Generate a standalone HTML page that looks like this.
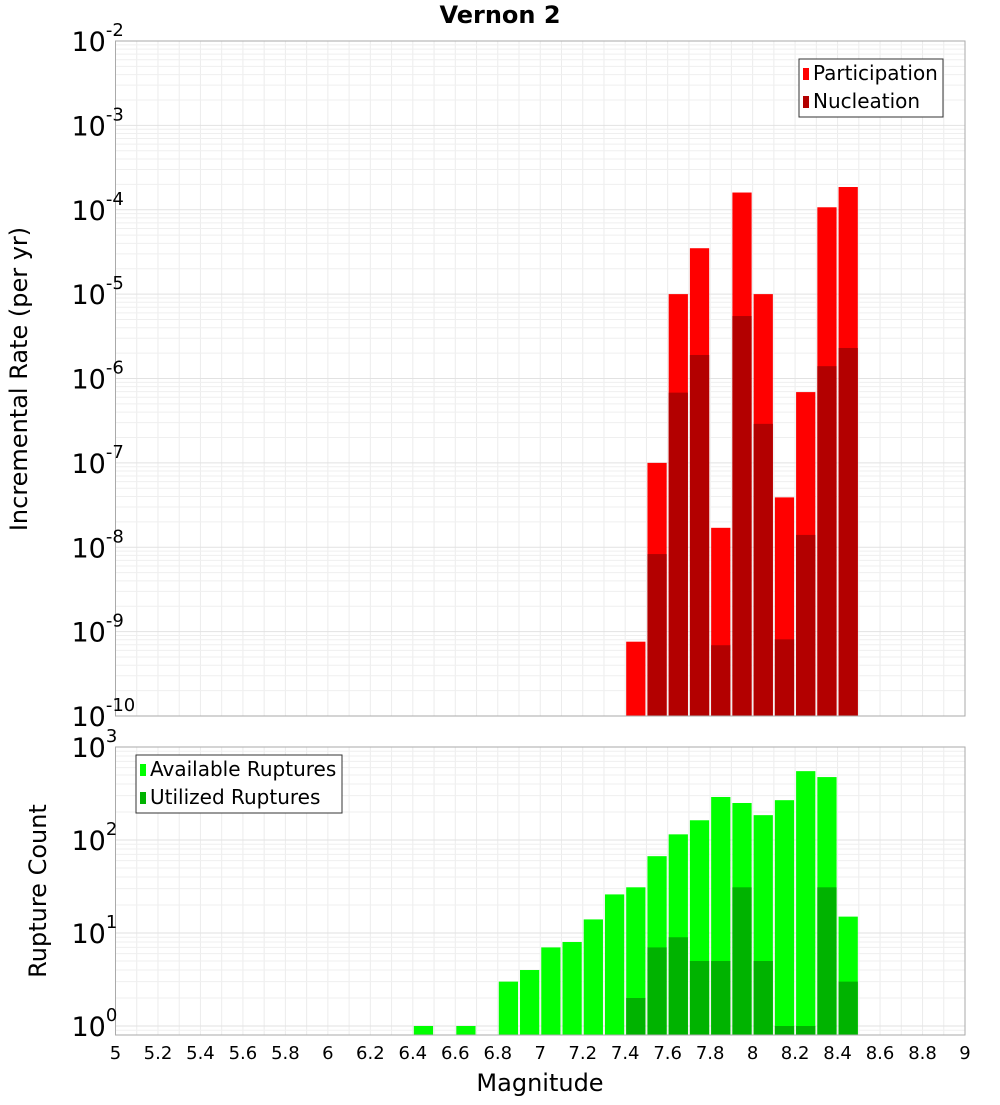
<!DOCTYPE html>
<html><head><meta charset="utf-8"><style>
body{margin:0;background:#fff}
svg text{font-family:"DejaVu Sans","Liberation Sans",sans-serif}
</style></head><body>
<svg id="c" width="1000" height="1100" xmlns="http://www.w3.org/2000/svg"></svg>
<script>
const mags=[6.45,6.55,6.65,6.75,6.85,6.95,7.05,7.15,7.25,7.35,7.45,7.55,7.65,7.75,7.85,7.95,8.05,8.15,8.25,8.35,8.45];
const participation=[0,0,0,0,0,0,0,0,0,0,7.6e-10,1e-7,1e-5,3.5e-5,1.7e-8,1.6e-4,1e-5,3.9e-8,6.9e-7,1.07e-4,1.86e-4];
const nucleation=[0,0,0,0,0,0,0,0,0,0,0,8.3e-9,6.8e-7,1.9e-6,6.9e-10,5.5e-6,2.9e-7,8.1e-10,1.4e-8,1.4e-6,2.3e-6];
const available=[1,0,1,0,3,4,7,8,14,26,31,67,115,163,290,250,185,268,550,475,15];
const utilized=[0,0,0,0,0,0,0,0,0,0,2,7,9,5,5,31,5,1,1,31,3];
const xTicks=[5,5.2,5.4,5.6,5.8,6,6.2,6.4,6.6,6.8,7,7.2,7.4,7.6,7.8,8,8.2,8.4,8.6,8.8,9];
const topExp=[-2,-3,-4,-5,-6,-7,-8,-9,-10];
const botExp=[3,2,1,0];

const svg=document.getElementById('c');const NS='http://www.w3.org/2000/svg';
function el(t,a,p){const e=document.createElementNS(NS,t);for(const k in a)e.setAttribute(k,a[k]);(p||svg).appendChild(e);return e;}
const L=115.5,R=965;
const X=m=>L+(m-5)/4*(R-L);
const T0=41,T1=716,B0=747,B1=1035;
const Yt=v=>T0+(-2-Math.log10(v))/8*(T1-T0);
const bDec=(1026-B0)/3;
const Yb=v=>B0+(3-Math.log10(v))*bDec;
const bw=(R-L)/40;

function grid(y0,y1,yf,decs,minDec){
  const g=el('g',{});
  
  for(let m=5;m<=9.001;m+=0.1){const x=X(m);el('line',{x1:x,x2:x,y1:y0,y2:y1,stroke:'#ececec','stroke-width':1},g);}
  for(let d=minDec;d<decs;d++)for(let k=1;k<10;k++){const y=yf(k*Math.pow(10,d));if(y>=y0&&y<=y1)el('line',{x1:L,x2:R,y1:y,y2:y,stroke:k==1?'#e2e2e2':'#efefef','stroke-width':1},g);}
}
grid(T0,T1,Yt,-2,-10);
grid(B0,B1,Yb,3,-1);

mags.forEach((m,i)=>{
  if(participation[i]>0){const y=Yt(participation[i]);const r=el('rect',{x:X(m)-bw/2+1,y:y,width:bw-2,height:T1-y,fill:'#ff0000'});}
  if(nucleation[i]>0){const y=Yt(nucleation[i]);const r=el('rect',{x:X(m)-bw/2+1,y:y,width:bw-2,height:T1-y,fill:'#b30000'});}
});
mags.forEach((m,i)=>{
  if(available[i]>0){const y=Yb(available[i]);const r=el('rect',{x:X(m)-bw/2+1,y:y,width:bw-2,height:B1-y,fill:'#00ff00'});}
  if(utilized[i]>0){const y=Yb(utilized[i]);const r=el('rect',{x:X(m)-bw/2+1,y:y,width:bw-2,height:B1-y,fill:'#00b300'});}
});
let f=el('rect',{x:L,y:T0,width:R-L,height:T1-T0,fill:'none',stroke:'#aaa'});

f=el('rect',{x:L,y:B0,width:R-L,height:B1-B0,fill:'none',stroke:'#aaa'});


function expLabel(y,e,name){
  const t=el('text',{x:L-44,y:y+10,'font-size':27,fill:'#000'});
  
  const a=el('tspan',{},t);a.textContent='10';
  const b=el('tspan',{dy:-15,'font-size':18},t);b.textContent=String(e);
}
topExp.forEach(e=>expLabel(Yt(Math.pow(10,e)),e,'y-tick-label'));
botExp.forEach(e=>expLabel(Yb(Math.pow(10,e)),e,'y2-tick-label'));
xTicks.forEach(v=>{const t=el('text',{x:X(v),y:1059,'text-anchor':'middle','font-size':18});t.textContent=String(v);});

let t=el('text',{x:500,y:23,'text-anchor':'middle','font-size':24,'font-weight':'bold'});t.textContent='Vernon 2';
t=el('text',{x:540,y:1091,'text-anchor':'middle','font-size':24});t.textContent='Magnitude';
t=el('text',{x:0,y:0,'text-anchor':'middle','font-size':24,transform:'translate(27,379) rotate(-90)'});t.textContent='Incremental Rate (per yr)';
t=el('text',{x:0,y:0,'text-anchor':'middle','font-size':24,transform:'translate(46,891) rotate(-90)'});t.textContent='Rupture Count';

function legend(x,y,w,items,name){
  const g=el('g',{});
  el('rect',{x:x,y:y,width:w,height:58,fill:'#fff',stroke:'#333'},g);
  items.forEach((it,i)=>{
    el('rect',{x:x+4,y:y+9+i*28,width:6,height:12,fill:it[1]},g);
    const tt=el('text',{x:x+14,y:y+21+i*28,'font-size':20},g);tt.textContent=it[0];
    
  });
}
legend(799,59,144,[['Participation','#ff0000'],['Nucleation','#b30000']],'top-legend');
legend(136,755,206,[['Available Ruptures','#00ff00'],['Utilized Ruptures','#00b300']],'bottom-legend');
</script>
</body></html>
